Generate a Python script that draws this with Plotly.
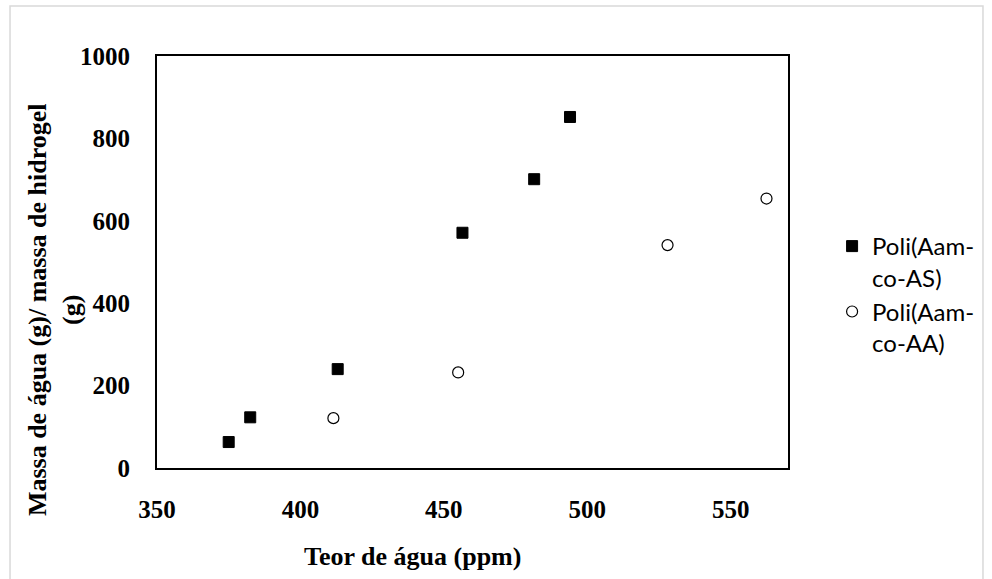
import plotly.graph_objects as go

# Data
as_name = "Poli(Aam-<br>co-AS)"
as_x = [375, 382.5, 413, 456.5, 481.5, 494]
as_y = [63, 123, 240, 571, 701, 852]

aa_name = "Poli(Aam-<br>co-AA)"
aa_x = [411.5, 455, 528, 562.5]
aa_y = [121, 232, 541, 654]

x_title = "Teor de água (ppm)"
y_title = "Massa de água (g)/ massa de hidrogel<br>(g)"

W, H = 992, 579
L, R, T, B = 157, 801, 56, 468

def px(x):
    return (x - L) / (R - L)

def py(y):
    return (B - y) / (B - T)

serif = "Liberation Serif, Times New Roman, serif"
sans = "Lato, Noto Sans, sans-serif"

fig = go.Figure()
fig.add_trace(go.Scatter(
    x=as_x, y=as_y, mode="markers", name=as_name,
    marker=dict(symbol="square", size=11, color="black",
                line=dict(color="black", width=1)),
))
fig.add_trace(go.Scatter(
    x=aa_x, y=aa_y, mode="markers", name=aa_name,
    marker=dict(symbol="circle", size=11, color="white",
                line=dict(color="black", width=1.2)),
))

axis_common = dict(
    showline=True, linecolor="black", linewidth=2, mirror=True,
    showgrid=False, zeroline=False, ticks="outside", ticklen=0,
    tickfont=dict(family=serif, size=25, color="black", weight="bold"),
)

fig.update_layout(
    width=W, height=H,
    margin=dict(l=L, r=W - R, t=T, b=H - B),
    paper_bgcolor="white", plot_bgcolor="white",
    xaxis=dict(range=[350, 570], dtick=50, tick0=350,
               ticklabelstandoff=18, **axis_common),
    yaxis=dict(range=[0, 1000], dtick=200, tick0=0,
               ticklabelstandoff=20, **axis_common),
    showlegend=True,
    legend=dict(
        x=px(846), y=py(224), xanchor="left", yanchor="top",
        font=dict(family=sans, size=24, color="black"),
        valign="top", tracegroupgap=10, bgcolor="rgba(0,0,0,0)",
    ),
    annotations=[
        dict(text=x_title, xref="paper", yref="paper",
             x=px(418), y=py(556), xanchor="center", yanchor="middle",
             showarrow=False,
             font=dict(family=serif, size=26, color="black", weight="bold")),
        dict(text=y_title, xref="paper", yref="paper",
             x=px(52), y=py(310), xanchor="center", yanchor="middle",
             textangle=-90, align="center", showarrow=False,
             font=dict(family=serif, size=26, color="black", weight="bold")),
    ],
    shapes=[
        dict(type="rect", xref="paper", yref="paper",
             x0=px(7), x1=px(1000), y0=py(590), y1=py(6),
             line=dict(color="#d9d9d9", width=1.5), layer="below"),
    ],
)

fig.write_html("out.html")
